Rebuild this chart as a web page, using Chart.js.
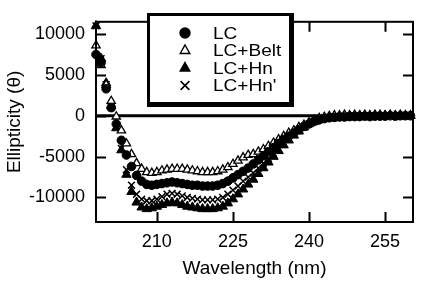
<!DOCTYPE html>
<html>
<head>
<meta charset="utf-8">
<script src="https://cdn.jsdelivr.net/npm/chart.js@4/dist/chart.umd.min.js"></script>
<style>
html,body{margin:0;padding:0;background:#fff;}
#wrap{width:422px;height:281px;position:relative;}
</style>
</head>
<body>
<div id="wrap"><canvas id="c" width="422" height="281"></canvas></div>
<script>
const wavelengths = [198,199,200,201,202,203,204,205,206,207,208,209,210,211,212,213,214,215,216,217,218,219,220,221,222,223,224,225,226,227,228,229,230,231,232,233,234,235,236,237,238,239,240,241,242,243,244,245,246,247,248,249,250,251,252,253,254,255,256,257,258,259,260];

const lc = [7500,6500,3300,1000,-1000,-3000,-4800,-6200,-7300,-8000,-8400,-8500,-8400,-8300,-8200,-8100,-8200,-8300,-8400,-8500,-8500,-8600,-8600,-8600,-8500,-8300,-8000,-7600,-7200,-6800,-6400,-5900,-5400,-4900,-4400,-3900,-3400,-2900,-2500,-2100,-1700,-1300,-1000,-700,-500,-350,-250,-200,-150,-150,-100,-100,-100,-50,-100,-50,-50,-50,0,-50,0,0,0];

const lcBelt = [8600,6200,3800,1800,-100,-1800,-3400,-4700,-5800,-6500,-6900,-7000,-6900,-6700,-6600,-6500,-6500,-6500,-6600,-6700,-6800,-6900,-6900,-6900,-6800,-6600,-6300,-5900,-5500,-5100,-4800,-4700,-4400,-4100,-3700,-3300,-2900,-2500,-2100,-1800,-1400,-1100,-800,-500,-300,-150,-50,50,50,100,50,100,50,100,50,100,100,50,100,50,100,50,50];

const lcHn = [11000,7000,4000,1200,-1500,-4200,-7200,-9300,-10600,-11200,-11400,-11300,-11100,-10900,-10700,-10600,-10700,-10900,-11100,-11200,-11300,-11400,-11400,-11400,-11300,-11100,-10700,-10200,-9600,-9000,-8400,-7800,-7100,-6400,-5700,-5000,-4300,-3600,-3000,-2400,-1900,-1400,-1000,-700,-500,-300,-200,-100,-100,-50,-50,-50,0,-50,0,0,-50,0,0,0,0,0,0];

const lcHnPrime = [11000,7000,3800,1000,-1300,-4000,-6600,-8500,-9600,-10200,-10400,-10400,-10200,-9900,-9600,-9500,-9600,-9800,-10000,-10100,-10200,-10300,-10300,-10300,-10200,-10000,-9600,-9100,-8600,-8000,-7500,-7000,-6400,-5800,-5200,-4600,-4000,-3400,-2800,-2300,-1800,-1400,-1000,-700,-450,-300,-200,-100,-100,-50,-50,0,-50,0,-50,0,0,-50,0,0,0,0,0];

const seriesLabels = ['LC','LC+Belt','LC+Hn',"LC+Hn'"];
const xTicks = [210,225,240,255];
const yTicks = [-10000,-5000,0,5000,10000];

const FONT = "'Liberation Sans', Arial, Helvetica, sans-serif";

function pts(arr){ return wavelengths.map((w,i)=>({x:w,y:arr[i]})); }

function drawMarker(ctx, style, x, y, r, filled){
  ctx.save();
  ctx.lineWidth = 1.4;
  ctx.strokeStyle = '#000';
  ctx.fillStyle = filled ? '#000' : '#fff';
  ctx.beginPath();
  if (style === 'circle') {
    ctx.arc(x, y, r, 0, Math.PI*2);
    ctx.fill(); ctx.stroke();
  } else if (style === 'triangle') {
    ctx.moveTo(x, y - r);
    ctx.lineTo(x + r*0.87, y + r*0.55);
    ctx.lineTo(x - r*0.87, y + r*0.55);
    ctx.closePath();
    ctx.fill(); ctx.stroke();
  } else {
    ctx.lineWidth = 1.6;
    ctx.moveTo(x-r*0.8,y-r*0.8); ctx.lineTo(x+r*0.8,y+r*0.8);
    ctx.moveTo(x+r*0.8,y-r*0.8); ctx.lineTo(x-r*0.8,y+r*0.8);
    ctx.stroke();
  }
  ctx.restore();
}

const framePlugin = {
  id: 'framePlugin',
  beforeDatasetsDraw(chart){
    const {ctx, chartArea:a, scales:{x,y}} = chart;
    ctx.save();
    ctx.strokeStyle = '#000';
    ctx.lineWidth = 3;
    const y0 = y.getPixelForValue(0);
    ctx.beginPath(); ctx.moveTo(a.left, y0); ctx.lineTo(a.right, y0); ctx.stroke();
    ctx.restore();
  },
  afterDatasetsDraw(chart){
    const {ctx, chartArea:a, scales:{x,y}} = chart;
    ctx.save();
    ctx.strokeStyle = '#000';
    ctx.lineWidth = 2;
    ctx.strokeRect(a.left, a.top, a.right - a.left, a.bottom - a.top);
    const TL = 10;
    ctx.beginPath();
    xTicks.forEach(v=>{
      const px = Math.round(x.getPixelForValue(v)) + 0.5;
      ctx.moveTo(px, a.bottom); ctx.lineTo(px, a.bottom - TL);
      ctx.moveTo(px, a.top); ctx.lineTo(px, a.top + TL);
    });
    yTicks.forEach(v=>{
      const py = Math.round(y.getPixelForValue(v)) + 0.5;
      ctx.moveTo(a.left, py); ctx.lineTo(a.left + TL, py);
      ctx.moveTo(a.right, py); ctx.lineTo(a.right - TL, py);
    });
    ctx.stroke();

    // legend box
    const bx = 147, by = 13, bw = 147, bh = 94;
    ctx.fillStyle = '#000';
    ctx.fillRect(bx, by, bw, bh);
    ctx.fillStyle = '#fff';
    ctx.fillRect(bx + 3, by + 3, bw - 8, bh - 8);
    chart.data.datasets.forEach((d, i)=>{
      const yy = 33 + i*17.5;
      const filled = d.pointBackgroundColor !== '#fff';
      drawMarker(ctx, d.pointStyle, 185, yy, d.pointStyle === 'circle' ? 5 : 5.5, filled);
      ctx.save();
      ctx.fillStyle = '#000';
      ctx.font = '17px ' + FONT;
      ctx.textAlign = 'left';
      ctx.textBaseline = 'middle';
      ctx.translate(213, yy + 1);
      ctx.scale(1.12, 1);
      ctx.fillText(d.label, 0, 0);
      ctx.restore();
    });
    ctx.restore();
  }
};

const common = { showLine:false, clip:false, borderColor:'#000', pointBorderColor:'#000' };

new Chart(document.getElementById('c'), {
  type: 'scatter',
  data: {
    datasets: [
      Object.assign({ label: seriesLabels[0], data: pts(lc), pointStyle:'circle', pointRadius:4.3, pointBackgroundColor:'#000', pointBorderWidth:1 }, common),
      Object.assign({ label: seriesLabels[1], data: pts(lcBelt), pointStyle:'triangle', pointRadius:4.8, pointBackgroundColor:'#fff', pointBorderWidth:1.3 }, common),
      Object.assign({ label: seriesLabels[2], data: pts(lcHn), pointStyle:'triangle', pointRadius:5.4, pointBackgroundColor:'#000', pointBorderWidth:1 }, common),
      Object.assign({ label: seriesLabels[3], data: pts(lcHnPrime), pointStyle:'crossRot', pointRadius:4.8, pointBackgroundColor:'#000', pointBorderWidth:1.5 }, common)
    ]
  },
  options: {
    responsive: false,
    animation: false,
    devicePixelRatio: 1,
    layout: { padding: { top: 6, right: 9, left: 0, bottom: 0 } },
    plugins: { legend: { display:false }, tooltip: { enabled:false } },
    scales: {
      x: {
        type: 'linear',
        min: 198, max: 260.5,
        afterBuildTicks(s){ s.ticks = xTicks.map(v=>({value:v})); },
        afterFit(s){ s.height = 59; },
        grid: { display:false, drawTicks:false },
        border: { display:false },
        ticks: { color:'#000', font:{ family:FONT, size:18 }, padding:9, maxRotation:0, callback:(v)=>String(v) },
        title: { display:true, text:'Wavelength (nm)', color:'#000', font:{ family:FONT, size:19 }, padding:{top:0,bottom:1} }
      },
      y: {
        min: -13000, max: 11500,
        afterBuildTicks(s){ s.ticks = yTicks.map(v=>({value:v})); },
        afterFit(s){ s.width = 96; },
        grid: { display:false, drawTicks:false },
        border: { display:false },
        ticks: { color:'#000', font:{ family:FONT, size:18 }, padding:11, callback:(v)=>String(v) },
        title: { display:true, text:'Ellipticity (θ)', color:'#000', font:{ family:FONT, size:19 }, padding:{top:3,bottom:3} }
      }
    }
  },
  plugins: [framePlugin]
});
</script>
</body>
</html>
